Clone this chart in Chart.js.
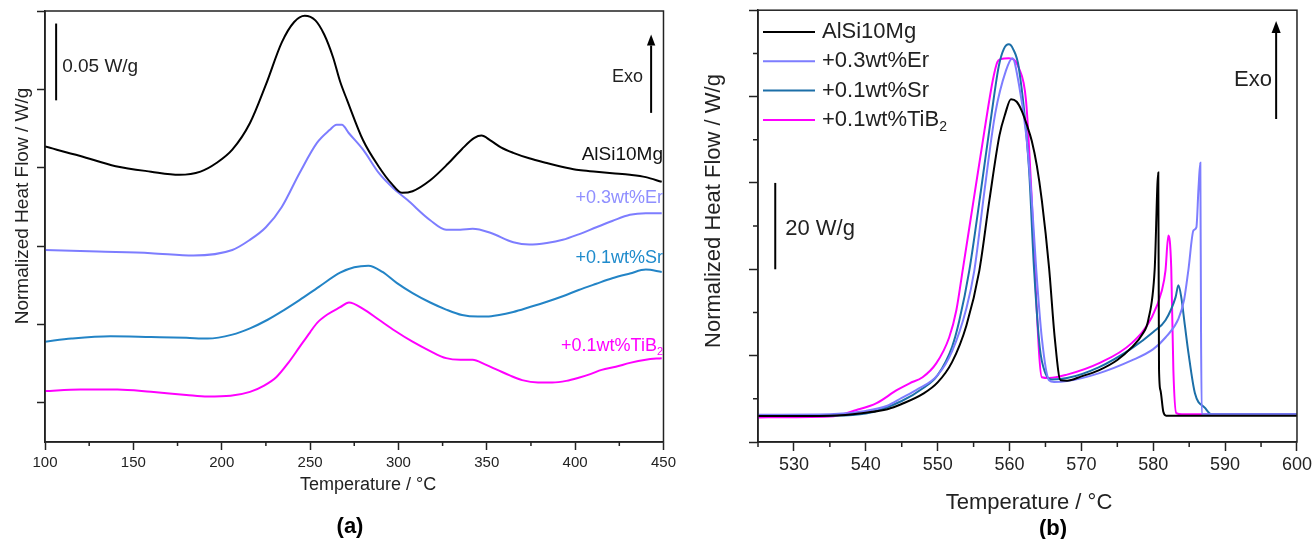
<!DOCTYPE html>
<html>
<head>
<meta charset="utf-8">
<script src="https://cdn.jsdelivr.net/npm/chart.js@4.4.1/dist/chart.umd.min.js"></script>
<style>
html,body{margin:0;padding:0;background:#fff;}
#wrap{position:relative;width:1315px;height:539px;overflow:hidden;background:#fff;}
#ca{position:absolute;left:0;top:0;width:680px;height:539px;}
#cb{position:absolute;left:680px;top:0;width:635px;height:539px;}
</style>
</head>
<body>
<div id="wrap">
  <canvas id="ca" width="680" height="539"></canvas>
  <canvas id="cb" width="635" height="539"></canvas>
</div>
<script>
'use strict';
/* ── DSC curves, panel (a): y in divisions of 0.05 W/g (curves offset) ── */
var A_BLACK_T=[100,120,140,160,176,188,197,206,216,225,234,241,247,253,258,263,267,271,280,289,296,302,308,318,328,336,343,347,352,358,365,374,384,395,402,412,421,431,440,449];
var A_BLACK_Y=[3.27,3.15,3.02,2.95,2.91,2.95,3.06,3.23,3.57,4.06,4.6,4.86,4.94,4.88,4.7,4.41,4.1,3.86,3.35,3.01,2.8,2.68,2.7,2.84,3.05,3.24,3.38,3.41,3.35,3.26,3.19,3.12,3.06,3.0,2.97,2.95,2.93,2.91,2.88,2.82];
var A_ER_T=[100,130,160,184,206,216,225,234,244,254,261,265,268,272,280,289,297,305,318,327,335,342,352,365,374,384,393,402,412,421,431,440,449];
var A_ER_Y=[1.95,1.93,1.91,1.88,1.95,2.08,2.24,2.5,2.93,3.32,3.48,3.55,3.55,3.44,3.23,2.93,2.74,2.59,2.33,2.21,2.21,2.22,2.17,2.05,2.02,2.04,2.08,2.15,2.24,2.32,2.40,2.42,2.42];
var A_SR_T=[100,115,137,160,180,192,206,216,226,235,244,255,267,275,283,291,299,308,318,327,336,345,350,357,365,374,384,393,402,412,421,431,440,449];
var A_SR_Y=[0.78,0.82,0.85,0.84,0.83,0.82,0.87,0.95,1.06,1.18,1.31,1.48,1.66,1.73,1.75,1.67,1.53,1.40,1.28,1.19,1.12,1.10,1.10,1.12,1.16,1.22,1.29,1.36,1.44,1.52,1.59,1.65,1.70,1.67];
var A_TIB_T=[100,120,141,160,180,192,205,216,224,231,238,244,250,254,260,267,272,280,289,298,308,318,327,335,342,349,356,363,370,379,387,395,402,409,415,423,431,440,449];
var A_TIB_Y=[0.15,0.17,0.17,0.14,0.10,0.08,0.09,0.14,0.22,0.33,0.52,0.71,0.90,1.02,1.13,1.22,1.28,1.20,1.06,0.92,0.78,0.66,0.57,0.55,0.55,0.49,0.42,0.35,0.29,0.26,0.26,0.28,0.32,0.37,0.42,0.46,0.51,0.55,0.57];

/* ── panel (b): normalized heat flow in W/g ── */
var B_BLACK_T=[525,535,540,543,545,548,550,552,554,555.8,557.2,558.6,559.4,560.2,561,561.7,562.4,563.1,563.8,564.5,565.5,566.3,567.1,568,570,572.4,575,577,578.5,579.3,580.2,580.7,580.8,581,581.4,581.8,583,600];
var B_BLACK_Y=[6.0,6.1,6.8,7.6,8.8,11.2,13.8,18.5,27,39.7,56,71,76,79.4,78.8,76.7,73.5,69.7,64,55.9,40.4,24,14.3,14.2,15.2,16.6,19,21.9,25,28.2,40,62.4,17,12,7,6.1,6.1,6.1];
var B_ER_T=[525,535,540,543,545,547,550,552,554,555.1,556.5,558,559.5,560.4,561.3,562.3,563.1,563.7,564.5,565.5,566.2,568,572.4,577,580,581.7,583.5,584.3,584.9,585.6,586,586.3,586.55,586.65,586.75,588,600];
var B_ER_Y=[6.3,6.4,7.2,8.4,10.2,12,15.5,21,31,39.7,58,76,86,88.9,82.9,71.4,55.9,40.4,24,14.3,13.9,14.1,15.9,18.9,21.5,24.2,28.5,33,40,49,49.7,58.9,64.7,25,6.4,6.4,6.4];
var B_SR_T=[525,535,540,545,548,550,552,553,554.4,556,557.5,558.5,559.2,559.9,560.5,561.3,562.7,563.4,564.2,565,565.9,568,572.4,577,580,581.7,583.1,583.5,583.9,584.4,584.9,585.8,587.2,588.1,600];
var B_SR_Y=[6.0,6.1,6.6,9.5,12.5,15.5,22,28,39.7,58,76,87,91,92.1,91,86.6,63.5,40.4,22,15.9,14.5,14.8,17.3,21.7,25.5,28.2,33.5,36.3,33.5,27,20.6,11.3,7.9,6.4,6.4];
var B_TIB_T=[525,535,538.7,541.5,544.3,546.1,547.9,549.8,551.6,552.6,553.5,555,556.5,557.7,558.3,558.8,559.9,561.3,562.3,563.1,563.5,564.5,565.5,568,572.4,577,579.8,581.2,581.7,582.1,582.5,582.8,583.2,584,600];
var B_TIB_Y=[5.7,5.9,7.4,9.0,12.0,13.6,15.0,18.2,24.2,30.5,40,56,72,84,88,88.7,88.9,86.6,79,55.9,40.4,15,14.8,15.6,18.2,22.9,28.9,35.1,39.7,47.8,40.4,16.6,6.7,6.4,6.4];

var SERIES_NAMES=['AlSi10Mg','+0.3wt%Er','+0.1wt%Sr','+0.1wt%TiB'];
var COL_BLACK='#000000',COL_ER='#7d7dff',COL_SR_A='#2384c6',COL_SR_B='#1c6fa8',COL_TIB='#ff00ff';
var FONT="'Liberation Sans', Arial, Helvetica, sans-serif";
var AX='#222';

Chart.defaults.font.family=FONT;
Chart.defaults.color=AX;

function pts(T,Y){return T.map(function(t,i){return{x:t,y:Y[i]};});}
function ds(T,Y,col,w){return{data:pts(T,Y),borderColor:col,borderWidth:w,pointRadius:0,fill:false,cubicInterpolationMode:'monotone'};}

function text(ctx,s,x,y,size,col,align,bold){
  ctx.font=(bold?'bold ':'')+size+'px '+FONT;ctx.fillStyle=col;ctx.textAlign=align||'left';ctx.textBaseline='middle';
  ctx.fillText(s,x,y);
}
function textSub(ctx,main,sub,x,y,size,col,align){
  ctx.font=size+'px '+FONT;var w1=ctx.measureText(main).width;
  var ss=Math.round(size*0.62);ctx.font=ss+'px '+FONT;var w2=ctx.measureText(sub).width;
  var x0=align==='right'?x-w1-w2:x;
  ctx.fillStyle=col;ctx.textAlign='left';ctx.textBaseline='middle';
  ctx.font=size+'px '+FONT;ctx.fillText(main,x0,y);
  ctx.font=ss+'px '+FONT;ctx.fillText(sub,x0+w1,y+size*0.32);
}
function arrowUp(ctx,x,y0,y1,head){
  ctx.strokeStyle='#000';ctx.fillStyle='#000';ctx.lineWidth=2;
  ctx.beginPath();ctx.moveTo(x,y0);ctx.lineTo(x,y1+head);ctx.stroke();
  ctx.beginPath();ctx.moveTo(x,y1);ctx.lineTo(x-head*0.38,y1+head);ctx.lineTo(x+head*0.38,y1+head);ctx.closePath();ctx.fill();
}
function frame(chart,opt){
  var ctx=chart.ctx,a=chart.chartArea,sx=chart.scales.x,sy=chart.scales.y,v;
  ctx.save();
  ctx.strokeStyle=AX;ctx.lineWidth=1.5;
  ctx.strokeRect(a.left,a.top,a.right-a.left,a.bottom-a.top);
  ctx.beginPath();
  for(v=sx.min;v<=sx.max+1e-6;v+=opt.xMinor){
    if(Math.abs(v/opt.xMajor-Math.round(v/opt.xMajor))>1e-6){var px=sx.getPixelForValue(v);ctx.moveTo(px,a.bottom);ctx.lineTo(px,a.bottom+opt.minorLen);}
  }
  if(opt.yMinor){
    for(v=sy.min;v<=sy.max+1e-6;v+=opt.yMinor){
      if(Math.abs(v/opt.yMajor-Math.round(v/opt.yMajor))>1e-6){var py=sy.getPixelForValue(v);ctx.moveTo(a.left,py);ctx.lineTo(a.left-opt.minorLen,py);}
    }
  }
  ctx.stroke();
  ctx.restore();
}

/* ───────── panel (a) ───────── */
var annoA={
  id:'annoA',
  afterDraw:function(chart){
    var ctx=chart.ctx,sx=chart.scales.x,sy=chart.scales.y;
    frame(chart,{xMinor:25,xMajor:50,minorLen:4});
    ctx.save();
    // axis titles
    ctx.save();ctx.translate(23,206);ctx.rotate(-Math.PI/2);text(ctx,'Normalized Heat Flow / W/g',0,0,19,AX,'center');ctx.restore();
    text(ctx,'Temperature / °C',368,485,18,AX,'center');
    text(ctx,'(a)',350,527,22,'#000','center',true);
    // 0.05 W/g scale bar (one division)
    var bx=sx.getPixelForValue(106.3);
    ctx.strokeStyle='#000';ctx.lineWidth=2;ctx.beginPath();
    ctx.moveTo(bx,sy.getPixelForValue(3.86));ctx.lineTo(bx,sy.getPixelForValue(4.84));ctx.stroke();
    text(ctx,'0.05 W/g',bx+6,67,19,AX,'left');
    // Exo arrow
    arrowUp(ctx,sx.getPixelForValue(443),sy.getPixelForValue(3.70),sy.getPixelForValue(4.70),11);
    text(ctx,'Exo',643,77,18,AX,'right');
    // curve labels
    text(ctx,SERIES_NAMES[0],663,155,19,'#111','right');
    text(ctx,SERIES_NAMES[1],663,198,18,'#8f8fff','right');
    text(ctx,SERIES_NAMES[2],663,258,18,'#1f8bcc','right');
    textSub(ctx,SERIES_NAMES[3],'2',663,346,18,COL_TIB,'right');
    ctx.restore();
  }
};

new Chart(document.getElementById('ca'),{
  type:'line',
  data:{datasets:[
    ds(A_BLACK_T,A_BLACK_Y,COL_BLACK,2),
    ds(A_ER_T,A_ER_Y,COL_ER,2),
    ds(A_SR_T,A_SR_Y,COL_SR_A,2),
    ds(A_TIB_T,A_TIB_Y,COL_TIB,2)
  ]},
  options:{
    responsive:false,animation:false,devicePixelRatio:1,
    layout:{padding:{top:11,right:16,left:0,bottom:0}},
    plugins:{legend:{display:false},tooltip:{enabled:false}},
    scales:{
      x:{type:'linear',min:100,max:450,
        ticks:{stepSize:25,autoSkip:false,maxRotation:0,padding:4,font:{size:15},color:AX,
          callback:function(v){return v%50===0?String(v):'';}},
        grid:{drawOnChartArea:false,tickLength:8,tickWidth:1.5,
          tickColor:function(c){return c.tick&&c.tick.value%50===0?AX:'rgba(0,0,0,0)';}},
        border:{color:AX,width:1.5},
        afterFit:function(s){s.height=97;}},
      y:{type:'linear',min:-0.5,max:5,
        ticks:{stepSize:1,callback:function(){return '';}},
        grid:{drawOnChartArea:false,tickLength:8,tickWidth:1.5,
          tickColor:function(c){return c.tick&&Number.isInteger(c.tick.value)?AX:'rgba(0,0,0,0)';}},
        border:{color:AX,width:1.5},
        afterFit:function(s){s.width=45;}}
    }
  },
  plugins:[annoA]
});

/* ───────── panel (b) ───────── */
var annoB={
  id:'annoB',
  afterDraw:function(chart){
    var ctx=chart.ctx,sx=chart.scales.x,sy=chart.scales.y,i;
    frame(chart,{xMinor:5,xMajor:10,yMinor:10,yMajor:20,minorLen:5});
    ctx.save();
    ctx.save();ctx.translate(34,211);ctx.rotate(-Math.PI/2);text(ctx,'Normalized Heat Flow / W/g',0,0,22,AX,'center');ctx.restore();
    text(ctx,'Temperature / °C',349,503,22,AX,'center');
    text(ctx,'(b)',373,529,22,'#000','center',true);
    // legend
    var cols=[COL_BLACK,COL_ER,COL_SR_B,COL_TIB];
    for(i=0;i<4;i++){
      var ly=32+29.3*i;
      ctx.strokeStyle=cols[i];ctx.lineWidth=2;ctx.beginPath();ctx.moveTo(83,ly);ctx.lineTo(135,ly);ctx.stroke();
      if(i<3)text(ctx,SERIES_NAMES[i],142,ly,22,AX,'left');
      else textSub(ctx,SERIES_NAMES[i],'2',142,ly,22,AX,'left');
    }
    // 20 W/g scale bar
    var bx=sx.getPixelForValue(527.4);
    ctx.strokeStyle='#000';ctx.lineWidth=2;ctx.beginPath();
    ctx.moveTo(bx,sy.getPixelForValue(40));ctx.lineTo(bx,sy.getPixelForValue(60));ctx.stroke();
    text(ctx,'20 W/g',bx+10,229,22,AX,'left');
    // Exo arrow
    arrowUp(ctx,sx.getPixelForValue(597.1),sy.getPixelForValue(74.8),sy.getPixelForValue(97.5),12);
    text(ctx,'Exo',592,80,22,AX,'right');
    ctx.restore();
  }
};

new Chart(document.getElementById('cb'),{
  type:'line',
  data:{datasets:[
    ds(B_BLACK_T,B_BLACK_Y,COL_BLACK,2),
    ds(B_ER_T,B_ER_Y,COL_ER,2),
    ds(B_SR_T,B_SR_Y,COL_SR_B,2),
    ds(B_TIB_T,B_TIB_Y,COL_TIB,2)
  ]},
  options:{
    responsive:false,animation:false,devicePixelRatio:1,
    layout:{padding:{top:9,right:16,left:0,bottom:0}},
    plugins:{legend:{display:false},tooltip:{enabled:false}},
    scales:{
      x:{type:'linear',min:525,max:600,
        ticks:{stepSize:5,autoSkip:false,maxRotation:0,padding:3,font:{size:18},color:AX,
          callback:function(v){return v%10===0?String(v):'';}},
        grid:{drawOnChartArea:false,tickLength:9,tickWidth:1.5,
          tickColor:function(c){return c.tick&&c.tick.value%10===0?AX:'rgba(0,0,0,0)';}},
        border:{color:AX,width:1.5},
        afterFit:function(s){s.height=97;}},
      y:{type:'linear',min:0,max:100,
        ticks:{stepSize:10,callback:function(){return '';}},
        grid:{drawOnChartArea:false,tickLength:9,tickWidth:1.5,
          tickColor:function(c){return c.tick&&c.tick.value%20===0?AX:'rgba(0,0,0,0)';}},
        border:{color:AX,width:1.5},
        afterFit:function(s){s.width=78;}}
    }
  },
  plugins:[annoB]
});
</script>
</body>
</html>
